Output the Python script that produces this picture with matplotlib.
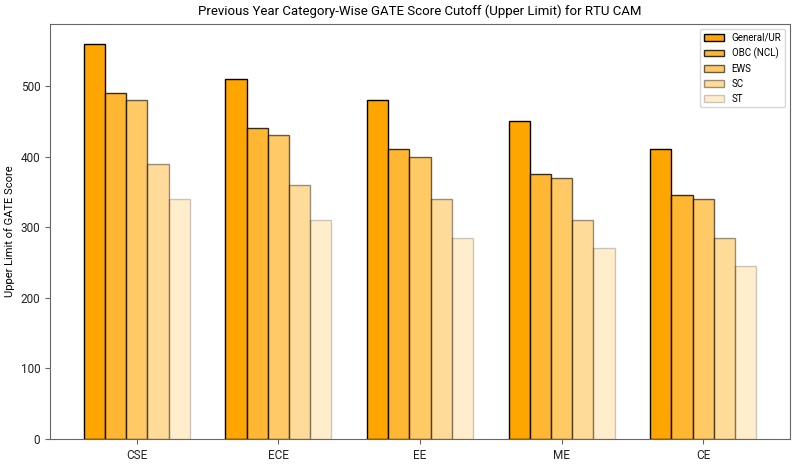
import matplotlib
matplotlib.use('Agg')
import matplotlib.pyplot as plt
import numpy as np

plt.rcParams['font.family'] = ['Roboto', 'DejaVu Sans']

branches = ['CSE', 'ECE', 'EE', 'ME', 'CE']
categories = ['General/UR', 'OBC (NCL)', 'EWS', 'SC', 'ST']
general = [560, 510, 480, 450, 410]
obc = [490, 440, 410, 375, 345]
ews = [480, 430, 400, 370, 340]
sc = [390, 360, 340, 310, 285]
st = [340, 310, 285, 270, 245]
alphas = [1.0, 0.8, 0.6, 0.4, 0.2]

series = [general, obc, ews, sc, st]
x = np.arange(len(branches))
w = 0.15

fig, ax = plt.subplots(figsize=(8, 4.67), dpi=100)
fig.subplots_adjust(left=0.0625, right=0.9875, bottom=0.06, top=0.949)
for i, (vals, lab, a) in enumerate(zip(series, categories, alphas)):
    ax.bar(x + (i - 2) * w, vals, w, color='orange', alpha=a,
           edgecolor='black', label=lab)

ax.set_xticks(x)
ax.set_xticklabels(branches, fontsize=8.5)
ax.tick_params(axis='y', labelsize=8.5)
ax.tick_params(colors='#666666', labelcolor='#222222', which='both')
for s in ax.spines.values():
    s.set_color('#666666')
ax.set_ylabel('Upper Limit of GATE Score', fontsize=8)
ax.set_title('Previous Year Category-Wise GATE Score Cutoff (Upper Limit) for RTU CAM', fontsize=9.5)
ax.legend(fontsize=7)

plt.savefig('out.png', dpi=100)
